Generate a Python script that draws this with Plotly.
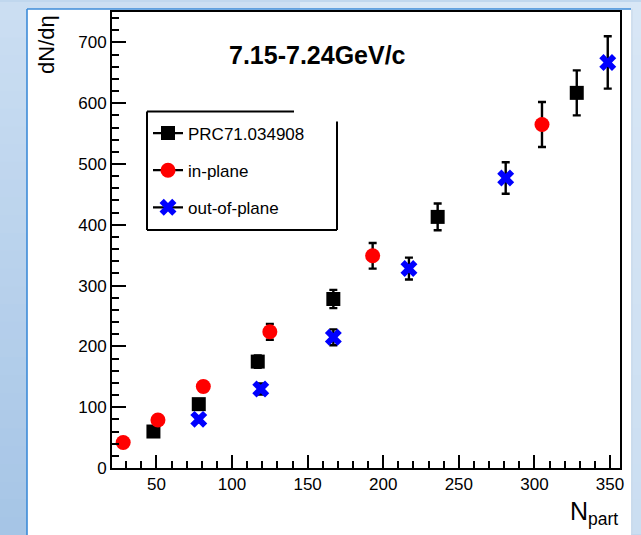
import plotly.graph_objects as go

# ---------------- data ----------------
npart_prc = [48, 78, 117, 167, 236, 328]
dndn_prc = [60, 105, 175, 278, 413, 617]
err_prc = [4, 6, 10, 15, 22, 37]

npart_in = [28, 51, 81, 125, 193, 305]
dndn_in = [42, 79, 134, 224, 349, 565]
err_in = [3, 5, 8, 13, 21, 37]

npart_out = [78, 119, 167, 217, 281, 348.5]
dndn_out = [80, 130, 215, 328, 477, 667]
err_out = [5, 9, 13, 18, 26, 43]

series_names = ["PRC71.034908", "in-plane", "out-of-plane"]
title_text = "7.15-7.24GeV/c"

# ---------------- geometry helpers ----------------
W, H = 641, 535
ML, MR, MT, MB = 112, 21, 10, 67
PW, PH = W - ML - MR, H - MT - MB


def px(x):
    return (x - ML) / PW


def py(y):
    return (H - MB - y) / PH


FONT = "Liberation Sans, Arial, Helvetica, sans-serif"

fig = go.Figure()

err_style = dict(type="data", visible=True, color="black", thickness=2.4, width=4)

fig.add_trace(go.Scatter(
    x=npart_prc, y=dndn_prc, mode="markers", showlegend=False,
    marker=dict(symbol="square", size=14, color="black"),
    error_y=dict(array=err_prc, **err_style)))
fig.add_trace(go.Scatter(
    x=npart_in, y=dndn_in, mode="markers", showlegend=False,
    marker=dict(symbol="circle", size=15, color="#ff0000"),
    error_y=dict(array=err_in, **err_style)))
fig.add_trace(go.Scatter(
    x=npart_out, y=dndn_out, mode="markers", showlegend=False,
    marker=dict(symbol="x", size=15, color="#0000ff"),
    error_y=dict(array=err_out, **err_style)))

# legend entries (line + marker, like ROOT "lep")
leg_markers = [dict(symbol="square", size=14, color="black"),
               dict(symbol="circle", size=15, color="#ff0000"),
               dict(symbol="x", size=15, color="#0000ff")]
for i, (nm, mk) in enumerate(zip(series_names, leg_markers)):
    fig.add_trace(go.Scatter(
        x=[None], y=[None], mode="lines+markers", name=nm,
        legendgroup=f"g{i}", line=dict(color="black", width=2.2), marker=mk))

# ---------------- background shapes ----------------
shapes = []
top_col = (0xcb, 0xde, 0xf2)
bot_col = (0xa6, 0xc5, 0xe6)
nb = 30
for i in range(nb):
    t = i / (nb - 1)
    c = tuple(round(top_col[k] + (bot_col[k] - top_col[k]) * t) for k in range(3))
    y0 = H * i / nb
    y1 = H * (i + 1) / nb + 1
    shapes.append(dict(type="rect", xref="paper", yref="paper", layer="below",
                       x0=px(0), x1=px(W), y0=py(y1), y1=py(y0),
                       fillcolor="rgb(%d,%d,%d)" % c, line=dict(width=0)))
# lighter right strip
shapes.append(dict(type="rect", xref="paper", yref="paper", layer="below",
                   x0=px(300), x1=px(W), y0=py(H), y1=py(0),
                   fillcolor="rgba(222,235,247,0.65)", line=dict(width=0)))
# white panel
shapes.append(dict(type="rect", xref="paper", yref="paper", layer="below",
                   x0=px(27), x1=px(631), y0=py(H + 2), y1=py(7),
                   fillcolor="white", line=dict(width=0)))
shapes.append(dict(type="line", xref="paper", yref="paper", layer="below",
                   x0=px(27), x1=px(631), y0=py(7), y1=py(7),
                   line=dict(color="#3d8bd8", width=1.6)))
shapes.append(dict(type="line", xref="paper", yref="paper", layer="below",
                   x0=px(27), x1=px(27), y0=py(7), y1=py(H + 2),
                   line=dict(color="#3d8bd8", width=1.6)))
shapes.append(dict(type="line", xref="paper", yref="paper", layer="below",
                   x0=px(632), x1=px(632), y0=py(7), y1=py(H + 2),
                   line=dict(color="#c9d8e8", width=1)))

# legend box lines
lb = dict(color="black", width=2)
shapes += [
    dict(type="line", xref="paper", yref="paper", x0=px(147), x1=px(294), y0=py(110), y1=py(110), line=lb),
    dict(type="line", xref="paper", yref="paper", x0=px(147), x1=px(147), y0=py(110), y1=py(229), line=lb),
    dict(type="line", xref="paper", yref="paper", x0=px(147), x1=px(337), y0=py(229), y1=py(229), line=lb),
    dict(type="line", xref="paper", yref="paper", x0=px(337), x1=px(337), y0=py(120), y1=py(229), line=lb),
]

annotations = [
    dict(text="<b>" + title_text + "</b>", xref="paper", yref="paper",
         x=px(317), y=py(53), xanchor="center", yanchor="middle", showarrow=False,
         font=dict(family=FONT, size=25, color="black")),
    dict(text="dN/dη", xref="paper", yref="paper", x=px(46.5), y=py(11),
         xanchor="center", yanchor="top", textangle=-90, showarrow=False,
         font=dict(family=FONT, size=22, color="black")),
    dict(text="N<sub>part</sub>", xref="paper", yref="paper", x=px(620), y=py(495),
         xanchor="right", yanchor="top", showarrow=False,
         font=dict(family=FONT, size=25, color="black")),
]

axis_common = dict(
    showgrid=False, zeroline=False, showline=True, linecolor="black", linewidth=2,
    mirror=True, ticks="inside", tickwidth=2, tickcolor="black",
    tickfont=dict(family=FONT, size=17, color="black"),
)

fig.update_layout(
    width=W, height=H, autosize=False,
    margin=dict(l=ML, r=MR, t=MT, b=MB, pad=0),
    paper_bgcolor="#c0d7ee", plot_bgcolor="white",
    font=dict(family=FONT, color="black"),
    xaxis=dict(range=[20.6, 356.6], dtick=50, tick0=0, ticklen=13,
               minor=dict(dtick=10, tick0=0, ticks="inside", ticklen=7, tickwidth=2,
                          tickcolor="black", showgrid=False),
               **axis_common),
    yaxis=dict(range=[0, 750], dtick=100, tick0=0, ticklen=14,
               minor=dict(dtick=20, tick0=0, ticks="inside", ticklen=7, tickwidth=2,
                          tickcolor="black", showgrid=False),
               **axis_common),
    showlegend=True,
    legend=dict(x=px(148), y=py(114), xanchor="left", yanchor="top",
                bgcolor="rgba(255,255,255,0)", borderwidth=0,
                font=dict(family=FONT, size=17, color="black"),
                traceorder="grouped", tracegroupgap=12, itemsizing="trace"),
    shapes=shapes, annotations=annotations,
)

fig.write_html("out.html", config={"displayModeBar": False})
